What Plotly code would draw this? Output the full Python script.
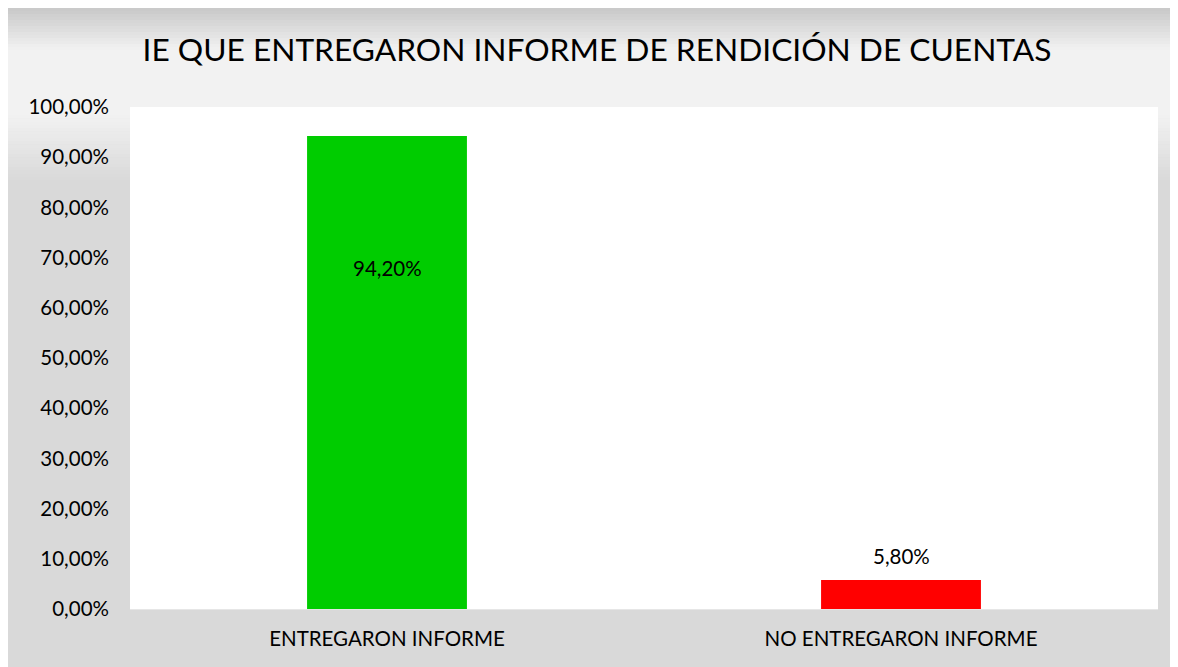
import plotly.graph_objects as go

categories = ["ENTREGARON INFORME", "NO ENTREGARON INFORME"]
values = [0.942, 0.058]
labels = ["94,20%", "5,80%"]
label_y = [0.68, 0.106]
bar_colors = ["#00CC00", "#FF0000"]
y_ticks = [0, 0.1, 0.2, 0.3, 0.4, 0.5, 0.6, 0.7, 0.8, 0.9, 1.0]

W, H = 1178, 667
L, R, T, B = 122, 28, 99, 66
PW, PH = W - L - R, H - T - B

def px_x(px):
    return (px - L) / PW

def px_y(py):
    return (H - B - py) / PH

def mix(c1, c2, t):
    v = round(c1 + (c2 - c1) * t)
    return f"rgb({v},{v},{v})"

shapes = []
# top gradient c8 -> f2
n = 14
for i in range(n):
    y0 = 42 * i / n
    y1 = 42 * (i + 1) / n
    shapes.append(dict(type="rect", xref="paper", yref="paper", layer="below",
                       x0=px_x(0), x1=px_x(W), y0=px_y(y1 + 0.5), y1=px_y(y0),
                       fillcolor=mix(200, 242, (i + 0.5) / n), line=dict(width=0)))
shapes.append(dict(type="rect", xref="paper", yref="paper", layer="below",
                   x0=px_x(0), x1=px_x(W), y0=px_y(107.5), y1=px_y(42),
                   fillcolor="#f2f2f2", line=dict(width=0)))
n = 20
for i in range(n):
    y0 = 107 + 65 * i / n
    y1 = 107 + 65 * (i + 1) / n
    shapes.append(dict(type="rect", xref="paper", yref="paper", layer="below",
                       x0=px_x(0), x1=px_x(W), y0=px_y(y1 + 0.5), y1=px_y(y0),
                       fillcolor=mix(242, 217, (i + 0.5) / n), line=dict(width=0)))
# white plot area
shapes.append(dict(type="rect", xref="paper", yref="paper", layer="below",
                   x0=0, x1=1, y0=0, y1=1, fillcolor="#ffffff", line=dict(width=0)))

fig = go.Figure(go.Bar(
    x=categories, y=values, marker=dict(color=bar_colors, line=dict(width=0)),
    width=0.311, hoverinfo="skip"))

annotations = []
for c, lab, ly in zip(categories, labels, label_y):
    annotations.append(dict(x=c, y=ly, xref="x", yref="y", text=lab, showarrow=False,
                            font=dict(size=20.5, color="#000000", family="Lato")))

fig.update_layout(
    width=W, height=H,
    margin=dict(l=L, r=R, t=T, b=B),
    paper_bgcolor="#d9d9d9",
    plot_bgcolor="rgba(0,0,0,0)",
    separators=",.",
    font=dict(family="Lato", size=20.5, color="#000000"),
    title=dict(text="IE QUE ENTREGARON INFORME DE RENDICIÓN DE CUENTAS",
               x=px_x(589), xanchor="center", xref="paper", y=1 - 42 / H, yanchor="middle",
               font=dict(size=31.7, color="#000000", family="Lato")),
    shapes=shapes,
    annotations=annotations,
    showlegend=False,
    bargap=0.689,
)
fig.update_xaxes(showgrid=False, showline=True, linecolor="#e6e6e6", linewidth=1,
                 ticks="", ticklabelstandoff=11, tickfont=dict(size=20.5, color="#000000"))
fig.update_yaxes(range=[0, 1.0], tickvals=y_ticks, tickformat=".2%", showgrid=False,
                 zeroline=False, showline=False, ticks="", ticklabelstandoff=20,
                 tickfont=dict(size=20.5, color="#000000"))

fig.write_html("out.html")
